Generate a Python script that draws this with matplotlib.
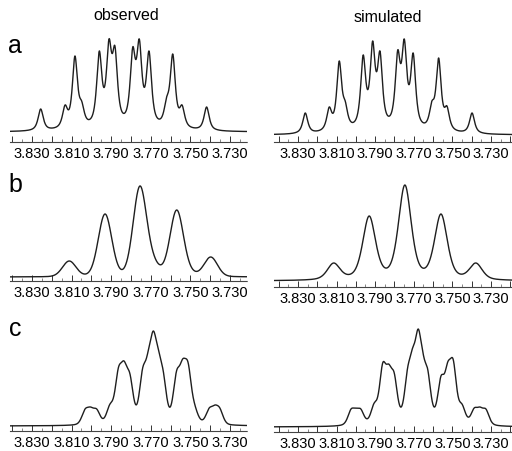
import numpy as np
import matplotlib
matplotlib.use("Agg")
import matplotlib.pyplot as plt
from matplotlib.ticker import MultipleLocator, FuncFormatter

plt.rcParams['font.family'] = ['Liberation Sans', 'DejaVu Sans']

# peak lists: position (ppm) and apparent height (a.u.)
a_obs_ppm = [3.8256, 3.8133, 3.8083, 3.8049, 3.7960, 3.7911, 3.7881,
             3.7791, 3.7758, 3.7709, 3.7620, 3.7589, 3.7542, 3.7418]
a_obs_h = [23, 27, 76, 31, 81, 93, 86, 85, 93, 81, 35, 78, 27, 25]

a_sim_ppm = [3.8262, 3.8138, 3.8086, 3.8055, 3.7962, 3.7913, 3.7875,
             3.7783, 3.7749, 3.7703, 3.7606, 3.7571, 3.7528, 3.7398]
a_sim_h = [22, 28, 74, 34, 80, 94, 84, 85, 96, 82, 34, 77, 29, 22]

b_obs_ppm = [3.8112, 3.7931, 3.7755, 3.7687, 3.7569, 3.7500, 3.7397]
b_obs_h = [16, 63, 91, 24, 67, 12, 20]

b_sim_ppm = [3.8115, 3.7931, 3.7746, 3.7559, 3.7378]
b_sim_h = [18, 65, 96, 67, 18]

c_obs_ppm = [3.8032, 3.8004, 3.7973, 3.7906, 3.7864, 3.7835, 3.7805,
             3.7741, 3.7712, 3.7687, 3.7662, 3.7637, 3.7570, 3.7539,
             3.7511, 3.7477, 3.7405, 3.7376, 3.7351]
c_obs_h = [17, 19, 17, 22, 58, 65, 52, 58, 76, 95, 77, 55, 55, 67,
           63, 21, 18, 21, 18]

c_sim_ppm = [3.8025, 3.7999, 3.7974, 3.7905, 3.7861, 3.7830, 3.7801,
             3.7732, 3.7706, 3.7677, 3.7654, 3.7628, 3.7559, 3.7524,
             3.7495, 3.7450, 3.7387, 3.7357, 3.7326]
c_sim_h = [18, 19, 18, 24, 64, 63, 54, 59, 79, 98, 76, 58, 51, 65,
           67, 23, 19, 20, 18]

tick_labels = ['3.830', '3.810', '3.790', '3.770', '3.750', '3.730']


def shape(x, c, w, eta):
    u = (x - c) / (w / 2)
    return eta / (1 + u ** 2) + (1 - eta) * np.exp(-np.log(2) * u ** 2)


def spectrum(x, ppm, h, w, eta):
    ppm = np.asarray(ppm)
    m = shape(ppm[:, None], ppm[None, :], w, eta)
    amp = np.linalg.solve(m, np.asarray(h, float))
    return sum(a * shape(x, c, w, eta) for a, c in zip(amp, ppm))


W, H = 512, 452
fig = plt.figure(figsize=(W / 100, H / 100), dpi=100)


def fmt(v, pos):
    s = '%.3f' % v
    return s if s in tick_labels else ''


def panel(x0, x1, axis_y, top_y, gap, xlim, ppm, h, w, eta):
    ax = fig.add_axes([x0 / W, 1 - axis_y / H, (x1 - x0) / W, (axis_y - top_y) / H])
    x = np.linspace(xlim[0], xlim[1], 2000)
    ax.plot(x, spectrum(x, ppm, h, w, eta), color='#1e1e1e', lw=1.0)
    ax.set_xlim(xlim)
    ax.set_ylim(-gap, axis_y - top_y - gap)
    for s in ['top', 'left', 'right']:
        ax.spines[s].set_visible(False)
    ax.spines['bottom'].set_linestyle((0, (1, 1)))
    ax.spines['bottom'].set_color('#444')
    ax.set_yticks([])
    ax.xaxis.set_major_locator(MultipleLocator(0.01))
    ax.xaxis.set_minor_locator(MultipleLocator(0.005))
    ax.xaxis.set_major_formatter(FuncFormatter(fmt))
    ax.tick_params(axis='x', which='major', direction='in', length=4, width=0.7,
                   color='#333', labelsize=10.5, pad=3)
    ax.tick_params(axis='x', which='minor', direction='in', length=2, width=0.5,
                   color='#555')
    ax.patch.set_alpha(0)
    return ax


left = (10, 247, (3.8411, 3.7214))
right = (274, 512, (3.8424, 3.7191))

panel(left[0], left[1], 143, 30, 10, left[2], a_obs_ppm, a_obs_h, 0.0031, 0.8)
panel(right[0], right[1], 143, 30, 7, right[2], a_sim_ppm, a_sim_h, 0.0031, 0.85)
panel(left[0], left[1], 282, 175, 4, left[2], b_obs_ppm, b_obs_h, 0.0080, 0.1)
panel(right[0], right[1], 288, 175, 6, right[2], b_sim_ppm, b_sim_h, 0.0078, 0.45)
panel(left[0], left[1], 432, 320, 5, left[2], c_obs_ppm, c_obs_h, 0.0040, 0.3)
panel(right[0], right[1], 433, 320, 5, right[2], c_sim_ppm, c_sim_h, 0.0040, 0.4)

fig.text(126 / W, 1 - 16 / H, 'observed', ha='center', va='center', fontsize=11.5)
fig.text(388 / W, 1 - 17 / H, 'simulated', ha='center', va='center', fontsize=11.5)
for lab, y in [('a', 46), ('b', 185), ('c', 329)]:
    fig.text(15 / W, 1 - y / H, lab, ha='center', va='center', fontsize=18)

fig.savefig('out.png', dpi=100)
